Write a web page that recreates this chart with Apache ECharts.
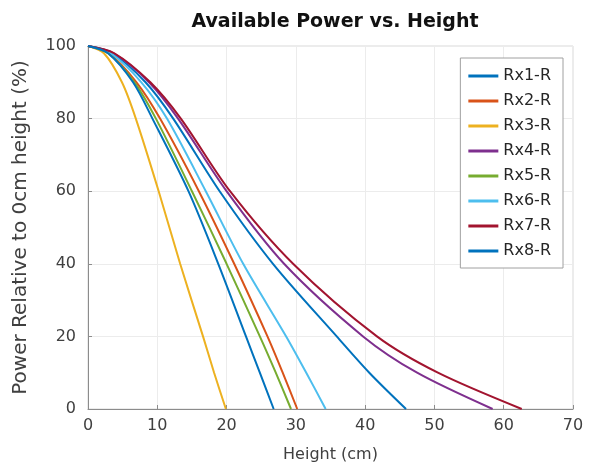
<!DOCTYPE html>
<html>
<head>
<meta charset="utf-8">
<script src="https://cdn.jsdelivr.net/npm/echarts@6/dist/echarts.min.js"></script>
<style>
  html, body { margin: 0; padding: 0; background: #fff; }
  #chart { width: 592px; height: 476px; }
</style>
</head>
<body>
<div id="chart"></div>
<script>
const powerLevels = [100, 98, 90, 80, 60, 40, 20, 10, 0]

// height (cm) of each receiver at those power levels
const rx1 = [0, 3.5, 8.3, 12.3, 19.0, 26.7, 35.9, 40.6, 45.9]
const rx2 = [0, 3.0, 7.0, 10.4, 16.0, 21.1, 25.9, 28.1, 30.2]
const rx3 = [0, 2.3, 4.9, 6.9, 10.2, 13.3, 16.6, 18.2, 19.9]
const rx4 = [0, 3.7, 8.8, 13.0, 20.0, 28.3, 39.7, 47.5, 58.4]
const rx5 = [0, 2.9, 6.7, 9.8, 15.0, 20.0, 24.8, 27.1, 29.3]
const rx6 = [0, 3.3, 7.7, 11.4, 17.0, 22.4, 28.6, 31.5, 34.3]
const rx7 = [0, 3.8, 9.0, 13.4, 20.5, 29.6, 41.7, 50.5, 62.6]
const rx8 = [0, 2.9, 6.5, 9.3, 14.5, 18.8, 22.8, 24.8, 26.8]

const names = ['Rx1-R', 'Rx2-R', 'Rx3-R', 'Rx4-R', 'Rx5-R', 'Rx6-R', 'Rx7-R', 'Rx8-R']
const heights = [rx1, rx2, rx3, rx4, rx5, rx6, rx7, rx8]
const colors = ['#0072BD', '#D95319', '#EDB120', '#7E2F8E', '#77AC30', '#4DBEEE', '#A2142F', '#0072BD']

const font = 'DejaVu Sans, sans-serif'

const myChart = echarts.init(document.getElementById('chart'))
myChart.setOption({
  animation: false,
  color: colors,
  title: {
    text: 'Available Power vs. Height',
    left: 330,
    top: 8,
    textAlign: 'center',
    textStyle: { fontFamily: font, fontSize: 19, fontWeight: 'bold', color: '#111' }
  },
  legend: {
    orient: 'vertical',
    right: 29,
    top: 58,
    padding: [10, 12, 9, 8],
    itemGap: 9,
    itemWidth: 30,
    itemHeight: 3,
    icon: 'rect',
    backgroundColor: '#fff',
    borderColor: '#a0a0a0',
    borderWidth: 1,
    borderRadius: 0,
    data: names,
    textStyle: { fontFamily: font, fontSize: 16, color: '#262626' }
  },
  grid: {
    left: 88,
    top: 46,
    width: 485,
    height: 363,
    show: true,
    borderColor: '#d8d8d8',
    borderWidth: 1
  },
  xAxis: {
    type: 'value',
    min: 0,
    max: 70,
    interval: 10,
    name: 'Height (cm)',
    nameLocation: 'middle',
    nameGap: 38,
    nameTextStyle: { fontFamily: font, fontSize: 16, color: '#404040' },
    axisLine: { lineStyle: { color: '#8c8c8c' } },
    axisTick: { inside: true, length: 4, lineStyle: { color: '#8c8c8c' } },
    axisLabel: { fontFamily: font, fontSize: 16, color: '#404040', margin: 9 },
    splitLine: { lineStyle: { color: '#ececec' } }
  },
  yAxis: {
    type: 'value',
    min: 0,
    max: 100,
    interval: 20,
    name: 'Power Relative to 0cm height (%)',
    nameLocation: 'middle',
    nameGap: 57,
    nameTextStyle: { fontFamily: font, fontSize: 20, color: '#404040' },
    axisLine: { show: true, lineStyle: { color: '#8c8c8c' } },
    axisTick: { show: true, inside: true, length: 4, lineStyle: { color: '#8c8c8c' } },
    axisLabel: { fontFamily: font, fontSize: 16, color: '#404040', margin: 12 },
    splitLine: { lineStyle: { color: '#ececec' } }
  },
  series: names.map((name, i) => ({
    name: name,
    type: 'line',
    symbol: 'none',
    smooth: 0.3,
    lineStyle: { width: 2, color: colors[i] },
    data: heights[i].map((h, k) => [h, powerLevels[k]])
  }))
})
</script>
</body>
</html>
